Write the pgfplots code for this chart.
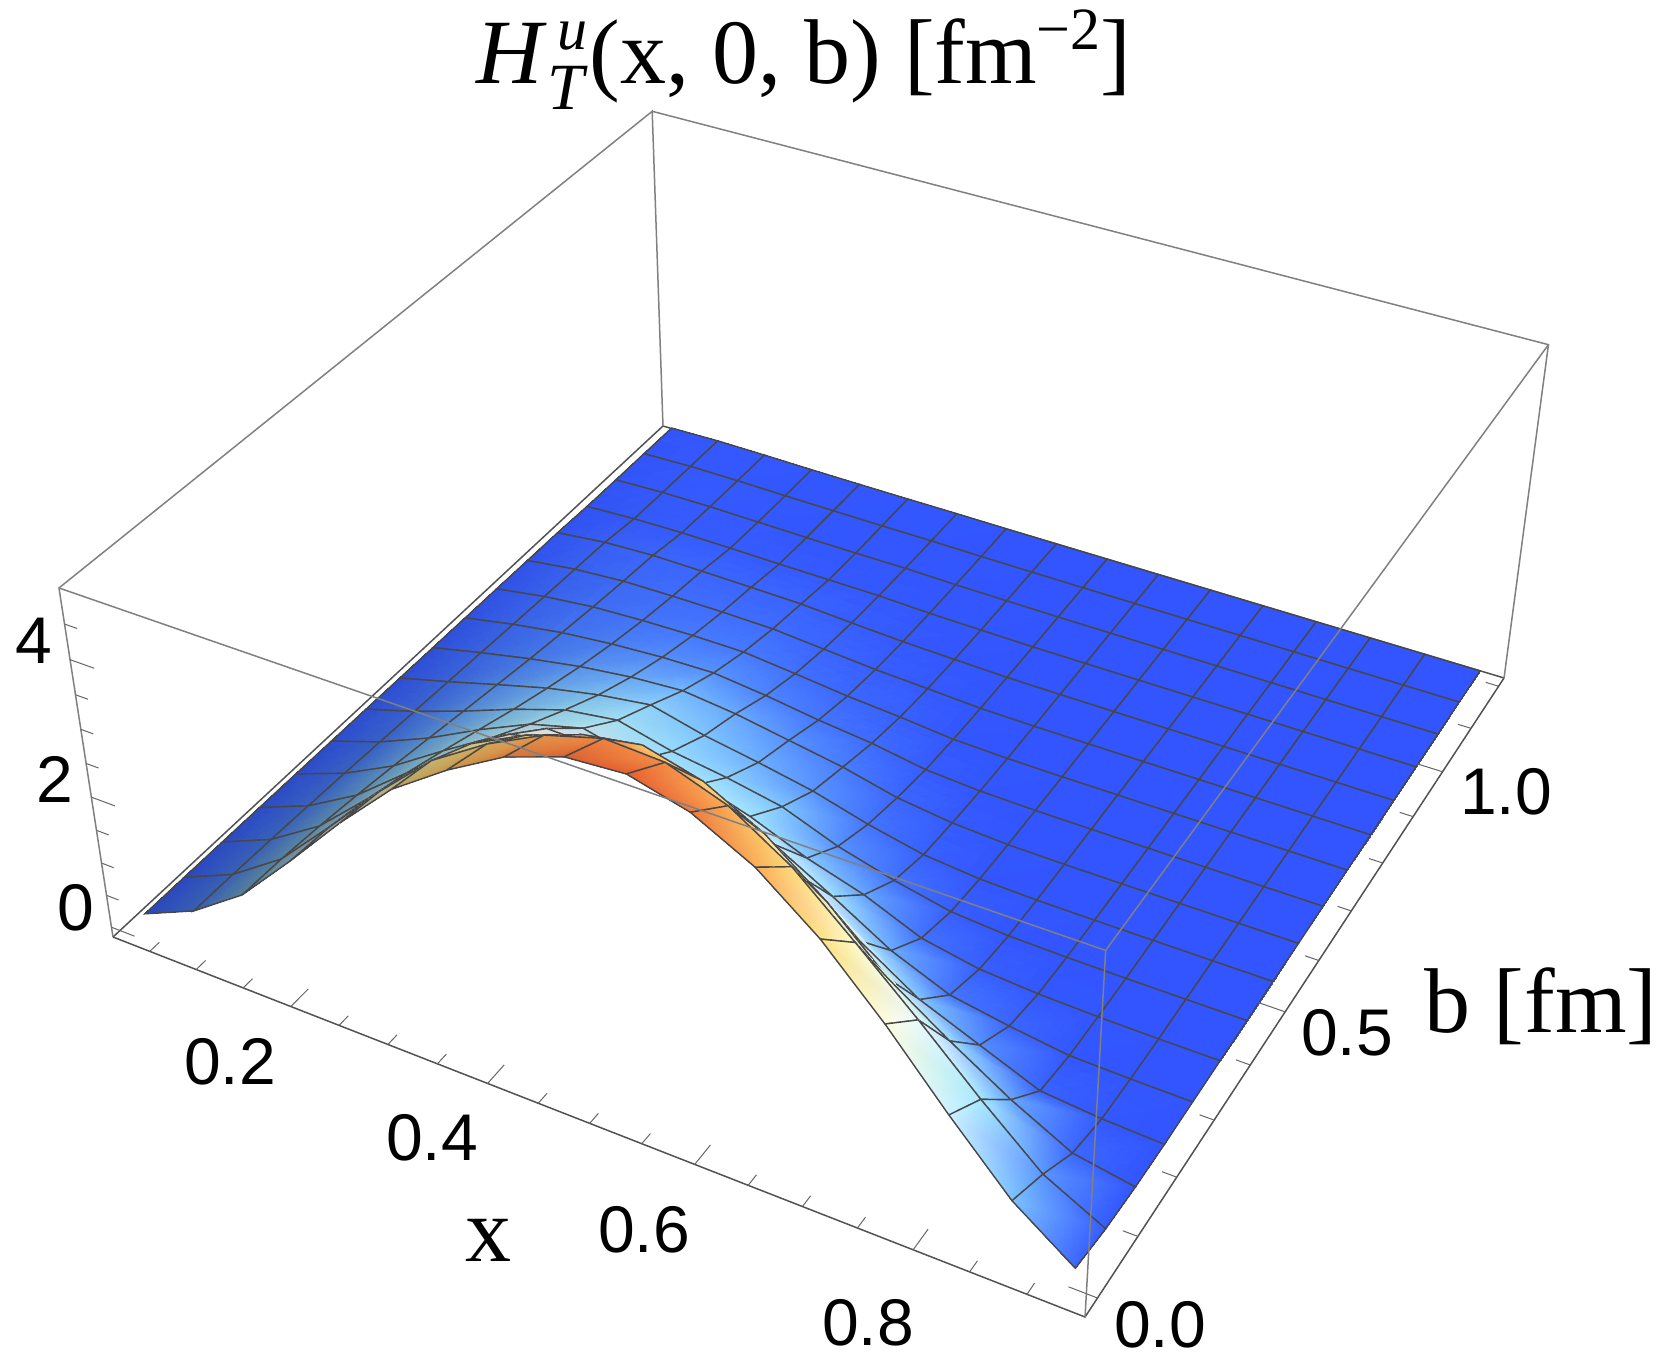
\documentclass[border=0pt]{standalone}
\usepackage{fontspec}
\usepackage{pgfplots}
\usepackage{pgfplotstable}
\pgfplotsset{compat=1.18}
\setmainfont{Liberation Sans}
\newfontfamily\serif{Liberation Serif}

% surface, one line for each b, back to front
\pgfplotstableread[row sep=\\]{
x b z\\
0.03 1.2 0.011\\0.08625 1.2 0.028\\0.1425 1.2 0.024\\0.19875 1.2 0.015\\0.255 1.2 0.01\\0.31125 1.2 0.007\\0.3675 1.2 0.007\\0.42375 1.2 0.002\\0.48 1.2 0.001\\0.53625 1.2 0\\0.5925 1.2 0\\0.64875 1.2 0\\0.705 1.2 0\\0.76125 1.2 0\\0.8175 1.2 0\\0.87375 1.2 0\\0.93 1.2 0\\
0.03 1.125 0.013\\0.08625 1.125 0.036\\0.1425 1.125 0.035\\0.19875 1.125 0.025\\0.255 1.125 0.018\\0.31125 1.125 0.014\\0.3675 1.125 0.013\\0.42375 1.125 0.005\\0.48 1.125 0.002\\0.53625 1.125 0\\0.5925 1.125 0\\0.64875 1.125 0\\0.705 1.125 0\\0.76125 1.125 0\\0.8175 1.125 0\\0.87375 1.125 0\\0.93 1.125 0\\
0.03 1.05 0.015\\0.08625 1.05 0.045\\0.1425 1.05 0.05\\0.19875 1.05 0.04\\0.255 1.05 0.03\\0.31125 1.05 0.025\\0.3675 1.05 0.026\\0.42375 1.05 0.011\\0.48 1.05 0.005\\0.53625 1.05 0\\0.5925 1.05 0\\0.64875 1.05 0\\0.705 1.05 0\\0.76125 1.05 0\\0.8175 1.05 0\\0.87375 1.05 0\\0.93 1.05 0\\
0.03 0.975 0.02\\0.08625 0.975 0.06\\0.1425 0.975 0.075\\0.19875 0.975 0.07\\0.255 0.975 0.06\\0.31125 0.975 0.055\\0.3675 0.975 0.05\\0.42375 0.975 0.023\\0.48 0.975 0.011\\0.53625 0.975 0.001\\0.5925 0.975 0\\0.64875 0.975 0\\0.705 0.975 0\\0.76125 0.975 0\\0.8175 0.975 0\\0.87375 0.975 0\\0.93 0.975 0\\
0.03 0.9 0.039\\0.08625 0.9 0.13\\0.1425 0.9 0.167\\0.19875 0.9 0.161\\0.255 0.9 0.151\\0.31125 0.9 0.137\\0.3675 0.9 0.089\\0.42375 0.9 0.048\\0.48 0.9 0.025\\0.53625 0.9 0.004\\0.5925 0.9 0\\0.64875 0.9 0\\0.705 0.9 0\\0.76125 0.9 0\\0.8175 0.9 0\\0.87375 0.9 0\\0.93 0.9 0\\
0.03 0.825 0.044\\0.08625 0.825 0.156\\0.1425 0.825 0.216\\0.19875 0.825 0.229\\0.255 0.825 0.23\\0.31125 0.825 0.218\\0.3675 0.825 0.155\\0.42375 0.825 0.092\\0.48 0.825 0.054\\0.53625 0.825 0.012\\0.5925 0.825 0.002\\0.64875 0.825 0\\0.705 0.825 0\\0.76125 0.825 0\\0.8175 0.825 0\\0.87375 0.825 0\\0.93 0.825 0\\
0.03 0.75 0.05\\0.08625 0.75 0.184\\0.1425 0.75 0.275\\0.19875 0.75 0.317\\0.255 0.75 0.339\\0.31125 0.75 0.338\\0.3675 0.75 0.258\\0.42375 0.75 0.17\\0.48 0.75 0.109\\0.53625 0.75 0.031\\0.5925 0.75 0.007\\0.64875 0.75 0\\0.705 0.75 0\\0.76125 0.75 0\\0.8175 0.75 0\\0.87375 0.75 0\\0.93 0.75 0\\
0.03 0.675 0.055\\0.08625 0.675 0.215\\0.1425 0.675 0.345\\0.19875 0.675 0.43\\0.255 0.675 0.484\\0.31125 0.675 0.505\\0.3675 0.675 0.416\\0.42375 0.675 0.3\\0.48 0.675 0.21\\0.53625 0.675 0.073\\0.5925 0.675 0.02\\0.64875 0.675 0.003\\0.705 0.675 0\\0.76125 0.675 0\\0.8175 0.675 0\\0.87375 0.675 0\\0.93 0.675 0\\
0.03 0.6 0.06\\0.08625 0.6 0.248\\0.1425 0.6 0.42\\0.19875 0.6 0.567\\0.255 0.6 0.672\\0.31125 0.6 0.73\\0.3675 0.6 0.64\\0.42375 0.6 0.5\\0.48 0.6 0.36\\0.53625 0.6 0.163\\0.5925 0.6 0.057\\0.64875 0.6 0.011\\0.705 0.6 0.001\\0.76125 0.6 0\\0.8175 0.6 0\\0.87375 0.6 0\\0.93 0.6 0\\
0.03 0.525 0.066\\0.08625 0.525 0.281\\0.1425 0.525 0.51\\0.19875 0.525 0.73\\0.255 0.525 0.9\\0.31125 0.525 1.02\\0.3675 0.525 0.82\\0.42375 0.525 0.68\\0.48 0.525 0.52\\0.53625 0.525 0.29\\0.5925 0.525 0.11\\0.64875 0.525 0.03\\0.705 0.525 0.005\\0.76125 0.525 0.001\\0.8175 0.525 0\\0.87375 0.525 0\\0.93 0.525 0\\
0.03 0.45 0.071\\0.08625 0.45 0.315\\0.1425 0.45 0.6\\0.19875 0.45 0.91\\0.255 0.45 1.18\\0.31125 0.45 1.3\\0.3675 0.45 1.1\\0.42375 0.45 0.98\\0.48 0.45 0.82\\0.53625 0.45 0.5\\0.5925 0.45 0.27\\0.64875 0.45 0.09\\0.705 0.45 0.024\\0.76125 0.45 0.007\\0.8175 0.45 0\\0.87375 0.45 0\\0.93 0.45 0\\
0.03 0.375 0.076\\0.08625 0.375 0.348\\0.1425 0.375 0.695\\0.19875 0.375 1.11\\0.255 0.375 1.48\\0.31125 0.375 1.7\\0.3675 0.375 1.5\\0.42375 0.375 1.4\\0.48 0.375 1.22\\0.53625 0.375 0.88\\0.5925 0.375 0.62\\0.64875 0.375 0.26\\0.705 0.375 0.097\\0.76125 0.375 0.037\\0.8175 0.375 0.01\\0.87375 0.375 0\\0.93 0.375 0\\
0.03 0.3 0.08\\0.08625 0.3 0.379\\0.1425 0.3 0.787\\0.19875 0.3 1.31\\0.255 0.3 1.81\\0.31125 0.3 2.22\\0.3675 0.3 2.2\\0.42375 0.3 2.2\\0.48 0.3 2.1\\0.53625 0.3 1.65\\0.5925 0.3 1.17\\0.64875 0.3 0.66\\0.705 0.3 0.3\\0.76125 0.3 0.15\\0.8175 0.3 0.03\\0.87375 0.3 0.01\\0.93 0.3 0\\
0.03 0.225 0.084\\0.08625 0.225 0.406\\0.1425 0.225 0.87\\0.19875 0.225 1.5\\0.255 0.225 2.12\\0.31125 0.225 2.66\\0.3675 0.225 2.85\\0.42375 0.225 2.95\\0.48 0.225 2.95\\0.53625 0.225 2.55\\0.5925 0.225 2.05\\0.64875 0.225 1.4\\0.705 0.225 0.84\\0.76125 0.225 0.48\\0.8175 0.225 0.12\\0.87375 0.225 0.04\\0.93 0.225 0\\
0.03 0.15 0.087\\0.08625 0.15 0.428\\0.1425 0.15 0.94\\0.19875 0.15 1.66\\0.255 0.15 2.4\\0.31125 0.15 3.05\\0.3675 0.15 3.46\\0.42375 0.15 3.75\\0.48 0.15 3.89\\0.53625 0.15 3.67\\0.5925 0.15 3.22\\0.64875 0.15 2.56\\0.705 0.15 1.76\\0.76125 0.15 1.17\\0.8175 0.15 0.63\\0.87375 0.15 0.17\\0.93 0.15 0.015\\
0.03 0.075 0.089\\0.08625 0.075 0.444\\0.1425 0.075 0.99\\0.19875 0.075 1.78\\0.255 0.075 2.6\\0.31125 0.075 3.34\\0.3675 0.075 3.86\\0.42375 0.075 4.27\\0.48 0.075 4.51\\0.53625 0.075 4.47\\0.5925 0.075 4.17\\0.64875 0.075 3.63\\0.705 0.075 2.88\\0.76125 0.075 2.1\\0.8175 0.075 1.28\\0.87375 0.075 0.52\\0.93 0.075 0.06\\
0.03 0 0.09\\0.08625 0 0.45\\0.1425 0 1.01\\0.19875 0 1.83\\0.255 0 2.69\\0.31125 0 3.47\\0.3675 0 4.03\\0.42375 0 4.5\\0.48 0 4.79\\0.53625 0 4.85\\0.5925 0 4.63\\0.64875 0 4.19\\0.705 0 3.52\\0.76125 0 2.66\\0.8175 0 1.7\\0.87375 0 0.8\\0.93 0 0.16\\
}\meshdata

% edges of the box, x b z
\pgfplotstableread{
x b z
0.01 -0.03 -0.155
0.01 1.22 -0.155
0.95 1.22 -0.155
}\backbottom

% perspective of the reference, fitted to the corners of the box
\def\U{((\thisrow{x}-0.01)/0.94)}
\def\V{((\thisrow{b}+0.03)/1.25)}
\def\W{((\thisrow{z}+0.155)/5.155)}
\def\Den{(1-0.11608*\U+0.2136*\V-0.069*\W)}
\pgfplotsset{
  proj/.style={
    table/x expr={(846.1*\U+691.6*\V-58.1*\W+113)/\Den},
    table/y expr={(227.1*\U-420*\V-389.6*\W+937)/\Den},
    table/z expr=\thisrow{z},
  },
  botedge/.style={proj, no marks, draw=black!68, line width=0.75pt},
  topedge/.style={proj, no marks, draw=black!50, line width=0.75pt},
  tk/.style={proj, no marks, draw=black!60, line width=0.5pt},
}

% colour against height
\pgfmathdeclarefunction{heatR}{1}{\pgfmathparse{#1<0.4?50+62.5*#1:(#1<0.8?75+125*(#1-0.4):(#1<1.3?125+90*(#1-0.8):(#1<1.8?170+90*(#1-1.3):(#1<2.4?215+66.7*(#1-1.8):(#1<4.2?255-1.7*(#1-2.4):252-33*(#1-4.2))))))}}
\pgfmathdeclarefunction{heatG}{1}{\pgfmathparse{#1<0.4?85+112.5*#1:(#1<0.8?130+162.5*(#1-0.4):(#1<1.3?195+80*(#1-0.8):(#1<2.4?235+18*(#1-1.3):(#1<3.0?255-8*(#1-2.4):(#1<3.6?250-47*(#1-3):(#1<4.2?222-87*(#1-3.6):170-117*(#1-4.2)))))))}}
\pgfmathdeclarefunction{heatB}{1}{\pgfmathparse{#1<2.4?255:(#1<3.0?255-117*(#1-2.4):(#1<3.6?185-108*(#1-3):(#1<4.2?120-58*(#1-3.6):85-58*(#1-4.2))))}}
% the light falls from the right
\pgfmathdeclarefunction{sh}{1}{\pgfmathparse{#1<0.22?0.4:(#1<0.52?0.4*(0.52-#1)/0.3:0)}}
\pgfmathdeclarefunction{zf}{1}{\pgfmathparse{#1<1?0.6+0.4*#1:1}}
\def\Shade{(1-sh(\thisrow{x}+0.35*\thisrow{b})*zf(\thisrow{z})*(1-0.62*\thisrow{b}))}

\begin{document}
\begin{tikzpicture}
\begin{axis}[
  scale only axis, width=830.5pt, height=685pt,
  view={0}{90},
  xmin=0, xmax=1661, ymin=0, ymax=1370, zmin=-1, zmax=6,
  y dir=reverse, hide axis, clip=false,
]
\path (axis cs:0,0,0) rectangle (axis cs:1661,1370,0);

% edges behind the surface
\addplot3[botedge] table {\backbottom};
\addplot3[topedge] table[row sep=\\] {x b z\\ 0.01 -0.03 -0.155\\ 0.01 -0.03 5\\ 0.01 1.22 5\\ 0.01 1.22 -0.155\\};
\addplot3[topedge] table[row sep=\\] {x b z\\ 0.01 1.22 5\\ 0.95 1.22 5\\ 0.95 1.22 -0.155\\};

\addplot3[proj, surf, shader=faceted interp, faceted color=black!72, line width=0.7pt,
  mesh/cols=17,
  mesh/color input=explicit mathparse,
  point meta={symbolic={
    1*heatR(\thisrow{z})/255*\Shade,
    1*heatG(\thisrow{z})/255*\Shade,
    1*heatB(\thisrow{z})/255*\Shade}},
] table {\meshdata};

% edges in front of it
\addplot3[botedge] table[row sep=\\] {x b z\\ 0.01 -0.03 -0.155\\ 0.95 -0.03 -0.155\\ 0.95 1.22 -0.155\\};
\addplot3[topedge] table[row sep=\\] {x b z\\ 0.01 -0.03 5\\ 0.95 -0.03 5\\ 0.95 1.22 5\\};
\addplot3[topedge] table[row sep=\\] {x b z\\ 0.95 -0.03 -0.155\\ 0.95 -0.03 5\\};

% ticks
\pgfplotsinvokeforeach{0.05,0.1,0.15,0.25,0.3,0.35,0.45,0.5,0.55,0.65,0.7,0.75,0.85,0.9}{
  \addplot3[tk] table[row sep=\\] {x b z\\ #1 -0.03 -0.155\\ #1 -0.012 -0.155\\};
}
\pgfplotsinvokeforeach{0.2,0.4,0.6,0.8}{
  \addplot3[tk] table[row sep=\\] {x b z\\ #1 -0.03 -0.155\\ #1 0.004 -0.155\\};
}
\pgfplotsinvokeforeach{0.1,0.2,0.3,0.4,0.6,0.7,0.8,0.9,1.1,1.2}{
  \addplot3[tk] table[row sep=\\] {x b z\\ 0.95 #1 -0.155\\ 0.937 #1 -0.155\\};
}
\pgfplotsinvokeforeach{0,0.5,1}{
  \addplot3[tk] table[row sep=\\] {x b z\\ 0.95 #1 -0.155\\ 0.925 #1 -0.155\\};
}
\pgfplotsinvokeforeach{0.5,1,1.5,2.5,3,3.5,4.5}{
  \addplot3[tk] table[row sep=\\] {x b z\\ 0.01 -0.03 #1\\ 0.023 -0.03 #1\\};
}
\pgfplotsinvokeforeach{0,2,4}{
  \addplot3[tk] table[row sep=\\] {x b z\\ 0.01 -0.03 #1\\ 0.035 -0.03 #1\\};
}

% labels
\begin{scope}[every node/.style={inner sep=0pt, font=\fontsize{33}{33}\selectfont}]
\node at (axis cs:230,1062,0) {0.2};
\node at (axis cs:432,1138,0) {0.4};
\node at (axis cs:644,1230,0) {0.6};
\node at (axis cs:868,1323,0) {0.8};
\node at (axis cs:1160,1325,0) {0.0};
\node at (axis cs:1347,1033,0) {0.5};
\node at (axis cs:1506,792,0) {1.0};
\node at (axis cs:34,641,0) {4};
\node at (axis cs:55,779,0) {2};
\node at (axis cs:76,908,0) {0};
\end{scope}
\begin{scope}[every node/.style={inner sep=0pt, font=\serif\fontsize{46}{46}\selectfont}]
\node at (axis cs:488,1240,0) {x};
\node at (axis cs:1541,1006,0) {b [fm]};
\node[anchor=base] at (axis cs:804,84,0) {\textit{H}\rlap{\raisebox{17pt}{\fontsize{30}{30}\selectfont\itshape\,u}}\raisebox{-13pt}{\fontsize{33}{33}\selectfont\itshape T}\kern3pt(x, 0, b) [fm\raisebox{17pt}{\fontsize{30}{30}\selectfont −2}]};
\end{scope}
\end{axis}
\end{tikzpicture}
\end{document}
